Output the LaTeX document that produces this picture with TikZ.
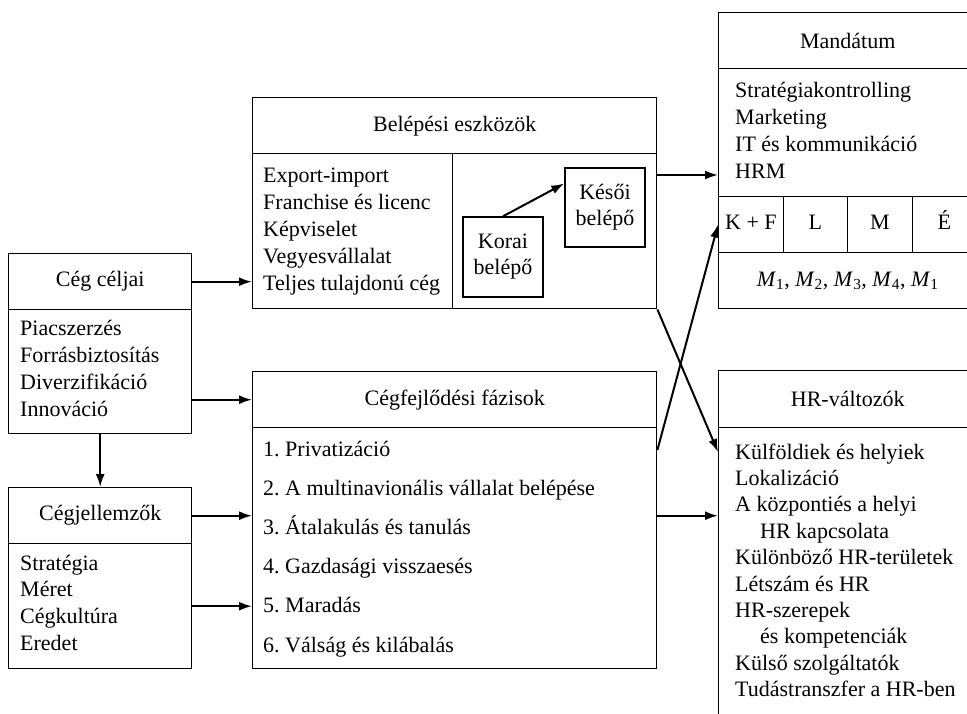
\documentclass[tikz,border=0pt]{standalone}
\usepackage{fontspec}
\setmainfont{Liberation Serif}
\usetikzlibrary{arrows.meta,calc}
\tikzstyle{line} = [draw, line width=2pt, -{Latex[length=13pt,width=9pt]}]
\tikzstyle{head} = [draw, line width=1.4pt, rectangle, anchor=north west, inner sep=0pt, text centered, minimum height=56pt]
\tikzstyle{body} = [draw, line width=1.4pt, rectangle, anchor=north west, inner sep=0pt]
\tikzstyle{cell} = [draw, line width=1.4pt, rectangle, anchor=north west, inner sep=0pt, minimum width=64.5pt, minimum height=56pt, text height=15pt, text depth=5pt]
\tikzstyle{list} = [anchor=base west, inner sep=0pt]
\tikzstyle{entry} = [draw, line width=1.4pt, rectangle, inner sep=0pt, minimum width=80pt, minimum height=80pt, align=center]
\newcommand{\itemlist}[2]{\fontsize{22}{#1}\selectfont\begin{tabular}[t]{@{}l@{}}#2\end{tabular}}

\begin{document}
\frenchspacing
\begin{tikzpicture}[x=1pt, y=-1pt, font=\fontsize{22}{26}\selectfont]
        \useasboundingbox (0,0) rectangle (967,714);
        \clip (0,0) rectangle (967,714);
        % left column
        \node[head, minimum width=183pt] (celhead) at (8,253) {Cég céljai};
        \node[body, minimum width=183pt, minimum height=124pt] (celbody) at (8,309) {};
        \node[list] (cellist) at (20,335) {\itemlist{27.3}{Piacszerzés\\Forrásbiztosítás\\Diverzifikáció\\Innováció}};
        \node[head, minimum width=183pt] (jelhead) at (8,487) {Cégjellemzők};
        \node[body, minimum width=183pt, minimum height=125pt] (jelbody) at (8,543) {};
        \node[list] (jellist) at (20,570) {\itemlist{26.7}{Stratégia\\Méret\\Cégkultúra\\Eredet}};
        % middle column
        \node[head, minimum width=404pt] (belhead) at (252,97) {Belépési eszközök};
        \node[body, minimum width=200pt, minimum height=155pt] (belleft) at (252,153) {};
        \node[body, minimum width=204pt, minimum height=155pt] (belright) at (452,153) {};
        \node[list] (bellist) at (263,183) {\itemlist{27}{Export-import\\Franchise és licenc\\Képviselet\\Vegyesvállalat\\Teljes tulajdonú cég}};
        \node[entry] (korai) at (503,257) {Korai\\belépő};
        \node[entry, minimum height=79pt] (kesoi) at (605,207.5) {Késői\\belépő};
        \node[head, minimum width=404pt] (fejhead) at (252,371) {Cégfejlődési fázisok};
        \node[body, minimum width=404pt, minimum height=241pt] (fejbody) at (252,427) {};
        \node[list] (fejlist) at (263,456) {\itemlist{39.2}{1. Privatizáció\\2. A multinavionális vállalat belépése\\3. Átalakulás és tanulás\\4. Gazdasági visszaesés\\5. Maradás\\6. Válság és kilábalás}};
        % right column
        \node[head, minimum width=258pt] (manhead) at (718,12) {Mandátum};
        \node[body, minimum width=258pt, minimum height=128pt] (manbody) at (718,68) {};
        \node[list] (manlist) at (735,98) {\itemlist{26.7}{Stratégiakontrolling\\Marketing\\IT és kommunikáció\\HRM}};
        \node[cell] (kf) at (718,196) {K + F};
        \node[cell] (l) at (782.5,196) {L};
        \node[cell] (m) at (847,196) {M};
        \node[cell] (e) at (911.5,196) {É};
        \node[head, minimum width=258pt] (mrow) at (718,252) {\textit{M}\textsubscript{1}, \textit{M}\textsubscript{2}, \textit{M}\textsubscript{3}, \textit{M}\textsubscript{4}, \textit{M}\textsubscript{1}};
        \node[head, minimum width=258pt, minimum height=57pt] (hrhead) at (718,370) {HR-változók};
        \node[body, minimum width=258pt, minimum height=330pt] (hrbody) at (718,427) {};
        \node[list] (hrlist) at (735,459) {\itemlist{26.4}{Külföldiek és helyiek\\Lokalizáció\\A központiés a helyi\\\hspace*{25pt}HR kapcsolata\\Különböző HR-területek\\Létszám és HR\\HR-szerepek\\\hspace*{25pt}és kompetenciák\\Külső szolgáltatók\\Tudástranszfer a HR-ben}};
        % connectors
        \path[line] (celhead.east) -- (celhead.east -| belleft.west);
        \path[line] (celbody.east |- fejhead.west) -- (fejhead.west);
        \path[line] (celbody.south) -- (jelhead.north);
        \path[line] (jelhead.east) -- (jelhead.east -| fejbody.west);
        \path[line] (jelbody.east) -- (jelbody.east -| fejbody.west);
        \path[line] (korai.north) -- ([yshift=24pt]kesoi.west);
        \path[line] ([yshift=-22pt]belright.north east) coordinate (b1) -- (b1 -| manbody.west);
        \path[line] ([yshift=32.5pt]fejbody.east) coordinate (f1) -- (f1 -| hrbody.west);
        \path[line] (belright.south east) -- ([yshift=-25pt]hrbody.north west);
        \path[line] ([yshift=-23pt]fejbody.north east) -- (kf.west);
    \end{tikzpicture}
\end{document}
